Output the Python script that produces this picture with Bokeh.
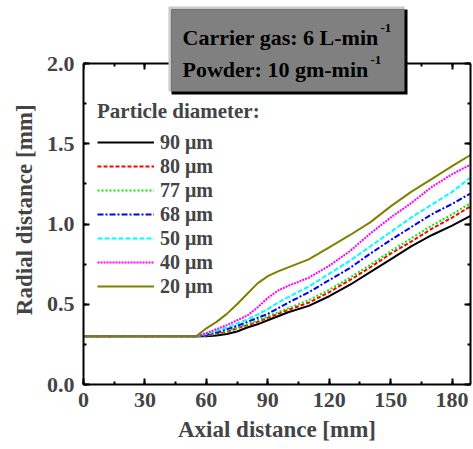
from bokeh.plotting import figure
from bokeh.models import (Range1d, LinearAxis, SingleIntervalTicker, Legend, LegendItem,
                          Label, BoxAnnotation, NumeralTickFormatter)
from bokeh.embed import file_html
from bokeh.resources import INLINE

# ---- data ----
axial = [0, 50, 55, 60, 65, 70, 75, 80, 85, 90, 95, 100, 110, 120, 130, 140, 150, 160, 170, 180, 189]
d90 = [0.30, 0.30, 0.30, 0.300, 0.305, 0.315, 0.330, 0.355, 0.375, 0.400, 0.425, 0.450, 0.490, 0.550, 0.620, 0.700, 0.780, 0.860, 0.930, 0.990, 1.050]
d80 = [0.30, 0.30, 0.30, 0.305, 0.315, 0.330, 0.350, 0.370, 0.390, 0.415, 0.440, 0.465, 0.510, 0.575, 0.650, 0.730, 0.815, 0.890, 0.970, 1.040, 1.110]
d77 = [0.30, 0.30, 0.30, 0.305, 0.318, 0.335, 0.355, 0.375, 0.400, 0.425, 0.450, 0.475, 0.525, 0.590, 0.665, 0.745, 0.830, 0.910, 0.990, 1.060, 1.130]
d68 = [0.30, 0.30, 0.30, 0.310, 0.325, 0.345, 0.365, 0.390, 0.415, 0.440, 0.475, 0.510, 0.575, 0.650, 0.725, 0.815, 0.900, 0.980, 1.060, 1.125, 1.190]
d50 = [0.30, 0.30, 0.30, 0.315, 0.335, 0.355, 0.380, 0.405, 0.435, 0.470, 0.510, 0.545, 0.610, 0.690, 0.770, 0.860, 0.950, 1.040, 1.120, 1.200, 1.290]
d40 = [0.30, 0.30, 0.30, 0.320, 0.345, 0.370, 0.400, 0.430, 0.480, 0.540, 0.585, 0.615, 0.665, 0.740, 0.830, 0.940, 1.040, 1.130, 1.230, 1.310, 1.370]
d20 = [0.30, 0.30, 0.30, 0.350, 0.390, 0.440, 0.500, 0.565, 0.630, 0.675, 0.705, 0.730, 0.780, 0.855, 0.930, 1.010, 1.110, 1.200, 1.280, 1.360, 1.430]

series = [
    ("90 \u03bcm", d90, "black", "solid"),
    ("80 \u03bcm", d80, "red", "4 2"),
    ("77 \u03bcm", d77, "#00ee00", "2 2"),
    ("68 \u03bcm", d68, "blue", "6 2 2 2"),
    ("50 \u03bcm", d50, "cyan", "5 2"),
    ("40 \u03bcm", d40, "magenta", "2 1"),
    ("20 \u03bcm", d20, "#808000", "solid"),
]

FONT = "Liberation Serif"
X0, X1 = 0, 189
Y0, Y1 = 0.0, 2.0
FL, FR = 83, 470          # frame left / right (px)
PY0, PY1 = 384, 63        # pixel rows of y=0 and y=2.0
TOP = 0                   # frame top (px)
ppu = (PY0 - PY1) / (Y1 - Y0)
y_end = Y1 + (PY1 - TOP) / ppu

def xd(px):
    return X0 + (px - FL) * (X1 - X0) / (FR - FL)

def yd(py):
    return Y0 + (PY0 - py) / ppu

p = figure(width=473, height=449, output_backend="svg", toolbar_location=None,
           x_range=Range1d(X0, X1), y_range=Range1d(Y0, y_end),
           min_border_left=FL, min_border_top=TOP, min_border_right=473 - FR,
           min_border_bottom=449 - PY0)
p.grid.visible = False
p.outline_line_color = None
p.background_fill_color = "white"
p.border_fill_color = "white"

def style_axis(ax, labels=True):
    ax.axis_line_width = 2
    ax.major_tick_line_width = 2
    ax.minor_tick_line_width = 2
    ax.major_tick_in = 6
    ax.major_tick_out = 0
    ax.minor_tick_in = 3
    ax.minor_tick_out = 0
    ax.major_label_text_font = FONT
    ax.major_label_text_font_style = "bold"
    ax.major_label_text_font_size = "22px" if labels else "0px"
    ax.major_label_standoff = 8 if labels else 0
    ax.axis_label_text_font = FONT
    ax.axis_label_text_font_style = "bold"
    ax.axis_label_text_font_size = "23px"

p.xaxis.ticker = SingleIntervalTicker(interval=30, num_minor_ticks=2)
p.yaxis.ticker = SingleIntervalTicker(interval=0.5, num_minor_ticks=2)
p.yaxis.formatter = NumeralTickFormatter(format="0.0")
p.yaxis.bounds = (Y0, Y1)
p.xaxis.axis_label = "Axial distance [mm]"
# trailing no-break spaces re-centre the label on the 0-2 span of the axis
p.yaxis.axis_label = "Radial distance [mm]" + "\u00a0" * 6
style_axis(p.xaxis[0])
style_axis(p.yaxis[0])
p.yaxis.major_label_standoff = 9
p.xaxis.axis_label_standoff = 7
p.yaxis.axis_label_standoff = 7

ra = LinearAxis(ticker=SingleIntervalTicker(interval=0.5, num_minor_ticks=2), bounds=(Y0, Y1))
ta = LinearAxis(ticker=SingleIntervalTicker(interval=30, num_minor_ticks=2), fixed_location=Y1)
style_axis(ra, labels=False)
style_axis(ta, labels=False)
p.add_layout(ra, "right")
p.add_layout(ta, "above")

items = []
for name, ys, col, dash in series:
    r = p.line(axial, ys, line_color=col, line_width=2, line_dash=dash)
    items.append(LegendItem(label=name, renderers=[r]))

legend = Legend(items=items, location=(12, 84), title="Particle diameter:",
                title_text_font=FONT, title_text_font_style="bold", title_text_font_size="21px",
                label_text_font=FONT, label_text_font_style="bold", label_text_font_size="20px",
                glyph_width=57, glyph_height=24, label_height=24, spacing=0, label_standoff=6,
                title_standoff=6, padding=2, margin=0,
                border_line_alpha=0, background_fill_alpha=0)
p.add_layout(legend, "center")

# raised grey annotation box
p.add_layout(BoxAnnotation(left=xd(168), right=xd(404), top=yd(6), bottom=yd(91),
                           fill_color="#c8c8c8", fill_alpha=1, line_alpha=0, level="overlay"))
p.add_layout(BoxAnnotation(left=xd(171), right=xd(407), top=yd(9), bottom=yd(94),
                           fill_color="black", fill_alpha=1, line_alpha=0, level="overlay"))
p.add_layout(BoxAnnotation(left=xd(171), right=xd(404), top=yd(9), bottom=yd(91),
                           fill_color="#808080", fill_alpha=1, line_alpha=0, level="overlay"))

def lab(txt, px, py, size):
    p.add_layout(Label(x=xd(px), y=yd(py), text=txt, text_font=FONT, text_font_style="bold",
                       text_font_size=size, text_align="left", text_baseline="middle",
                       text_color="black", level="overlay"))

lab("Carrier gas: 6 L-min", 182, 37, "22px")
lab("-1", 380, 27, "13px")
lab("Powder: 10 gm-min", 182, 69, "22px")
lab("-1", 370, 59, "13px")

open("out.html", "w").write(file_html(p, INLINE))
